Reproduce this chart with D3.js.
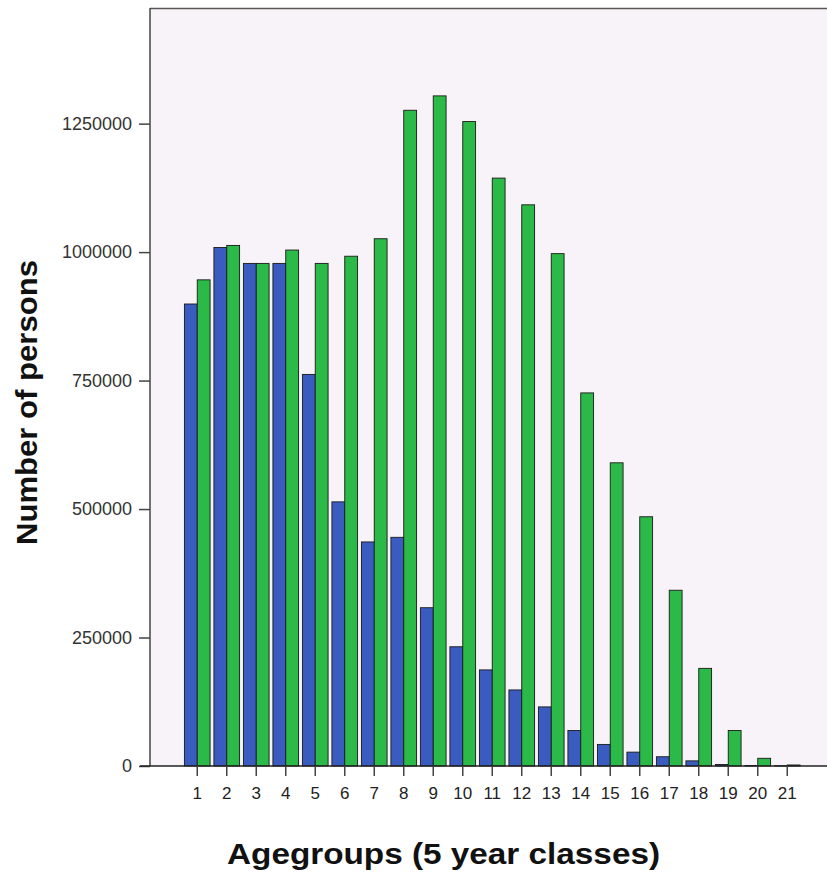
<!DOCTYPE html>
<html><head><meta charset="utf-8">
<script src="https://cdn.jsdelivr.net/npm/d3@7"></script>
<style>body{margin:0;background:#fff}svg{display:block}</style>
</head><body>
<svg id="c" width="827" height="872"></svg>
<script>
const categories = d3.range(1, 22).map(String);
const series1 = [899000,1009000,978000,978000,762000,514000,436000,445000,308000,232000,187000,148000,115000,69000,42000,27000,18000,10000,3000,1000,500];
const series2 = [946000,1013000,978000,1004000,978000,992000,1026000,1276000,1304000,1254000,1144000,1092000,997000,726000,590000,485000,342000,190000,69000,15000,2000];
const yTicks = [0,250000,500000,750000,1000000,1250000];
const seriesNames = ["s1","s2"];
const colors = ["#3a5cc0","#2bba47"];

const svg = d3.select("#c");
const L=150, T=8, R=827, B=766;
const FONT = "Liberation Sans, Arial, sans-serif";
svg.append("rect").attr("x",L).attr("y",T).attr("width",R-L).attr("height",B-T).attr("fill","#f8f3f8");

const x = d3.scaleBand().domain(categories).range([182.5, 182.5+21*29.5]).paddingInner(0.13).paddingOuter(0.065);
const xs = d3.scaleBand().domain(seriesNames).range([0, x.bandwidth()]);
const y = d3.scaleLinear().domain([0,1475000]).range([B,T]);

const data = categories.map((c,i)=>({c, v:[series1[i],series2[i]]}));
const g = svg.append("g");
g.selectAll("g.grp").data(data).join("g").attr("transform",d=>`translate(${x(d.c)},0)`)
 .selectAll("rect").data(d=>d.v.map((v,j)=>({v,j}))).join("rect")
 .attr("x",d=>xs(seriesNames[d.j])).attr("width",xs.bandwidth())
 .attr("y",d=>y(d.v)).attr("height",d=>B-y(d.v))
 .attr("fill",d=>colors[d.j]).attr("stroke","#1a1a1a").attr("stroke-width",0.9);

// frame
svg.append("line").attr("x1",L).attr("x2",R).attr("y1",T+0.5).attr("y2",T+0.5).attr("stroke","#555").attr("stroke-width",1.5);

const ya = svg.append("g").attr("transform",`translate(${L},0)`)
  .call(d3.axisLeft(y).tickValues(yTicks).tickSize(11).tickPadding(7).tickFormat(d3.format("d")));
ya.select(".domain").attr("stroke","#444").attr("stroke-width",1.5).attr("d",`M0,${T}V${B}`);
ya.selectAll(".tick line").attr("stroke","#444").attr("stroke-width",1.5);
ya.selectAll("text").attr("font-family",FONT).attr("font-size",18).attr("fill","#333");

const xa = svg.append("g").attr("transform",`translate(0,${B})`)
  .call(d3.axisBottom(x).tickSize(10).tickPadding(11));
xa.select(".domain").attr("stroke","#222").attr("stroke-width",1.5).attr("d",`M${L-10},0H${R}`);
xa.selectAll(".tick line").attr("stroke","#444").attr("stroke-width",1.5);
xa.selectAll("text").attr("font-family",FONT).attr("font-size",17).attr("fill","#222");

svg.append("text").attr("x",443.5).attr("y",864).attr("text-anchor","middle")
  .attr("font-family",FONT).attr("font-weight","bold").attr("font-size",29).attr("fill","#111")
  .attr("textLength",433).attr("lengthAdjust","spacingAndGlyphs")
  .text("Agegroups (5 year classes)");
svg.append("text").attr("transform","translate(37,402.5) rotate(-90)").attr("text-anchor","middle")
  .attr("font-family",FONT).attr("font-weight","bold").attr("font-size",30).attr("fill","#111")
  .attr("textLength",285).attr("lengthAdjust","spacingAndGlyphs")
  .text("Number of persons");
</script>
</body></html>
